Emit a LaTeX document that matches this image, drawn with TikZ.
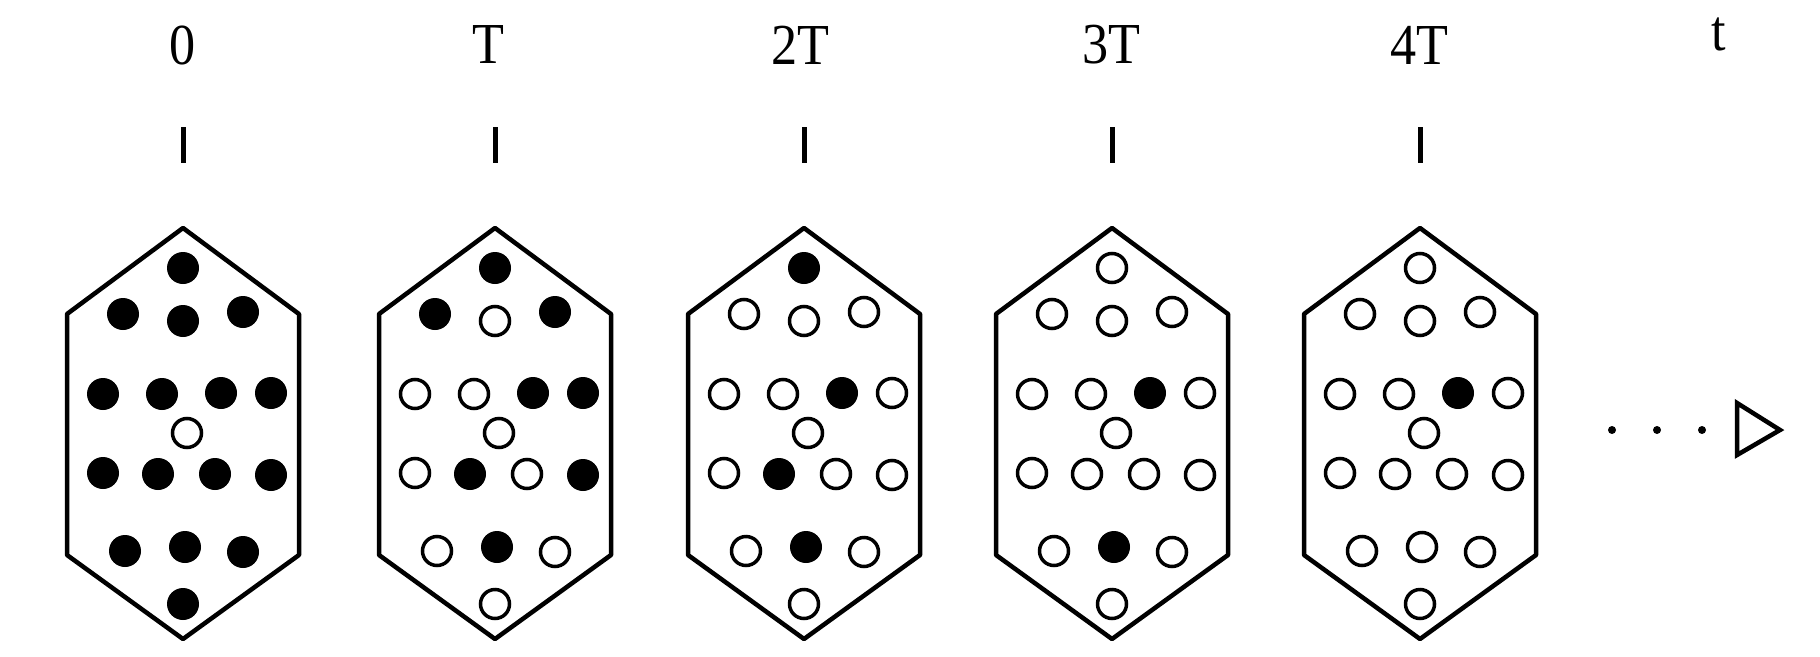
\documentclass[tikz,border=0pt]{standalone}
\usepackage{fontspec}
\setmainfont{Liberation Serif}
\tikzset{
  hexline/.style={line width=4.5pt, line join=round},
  fullc/.style={circle, fill=black, minimum size=32pt, inner sep=0pt, outer sep=0pt},
  openc/.style={circle, draw=black, line width=3.5pt, fill=white, minimum size=29pt, inner sep=0pt},
  lab/.style={font=\fontsize{58}{60}\selectfont, xscale=0.9, inner sep=0pt},
  tickmark/.style={line width=5pt},
  dotmark/.style={circle, fill=black, minimum size=8pt, inner sep=0pt},
  tri/.style={line width=4.5pt, line join=miter},
}
\newcommand\drawhex[5]{%
  \node[lab] (lab#3) at (#5,45) {#2};
  \coordinate (tt#3) at (#1,127);
  \coordinate (tb#3) at (#1,163);
  \draw[tickmark] (tt#3) -- (tb#3);
  \coordinate (hx#3) at (#1,228);
  \draw[hexline] (hx#3) -- ++(116,86) -- ++(0,241) -- ++(-116,84) -- ++(-116,-84) -- ++(0,-241) -- cycle;
  \foreach \dx/\dy [count=\k from 0] in {0/40, -60/86, 0/93, 60/84, -80/166, -21/166, 38/165, 88/165, 4/205, -80/245, -25/246, 32/246, 88/247, -58/323, 2/319, 60/324, 0/376}{
    \pgfmathtruncatemacro\ff{{#4}[\k]}
    \ifnum\ff=1
      \node[fullc] (c#3-\k) at (#1+\dx,228+\dy) {};
    \else
      \node[openc] (c#3-\k) at (#1+\dx,228+\dy) {};
    \fi
  }
}
\begin{document}
\begin{tikzpicture}[x=1pt,y=-1pt]
\useasboundingbox (0,0) rectangle (1820,656);
\fill[white] (0,0) rectangle (1820,656);
\drawhex{183}{0}{a}{1,1,1,1,1,1,1,1,0,1,1,1,1,1,1,1,1}{183}
\drawhex{495}{T}{b}{1,1,0,1,0,0,1,1,0,0,1,0,1,0,1,0,0}{488}
\drawhex{804}{2T}{c}{1,0,0,0,0,0,1,0,0,0,1,0,0,0,1,0,0}{800}
\drawhex{1112}{3T}{d}{0,0,0,0,0,0,1,0,0,0,0,0,0,0,1,0,0}{1111}
\drawhex{1420}{4T}{e}{0,0,0,0,0,0,1,0,0,0,0,0,0,0,0,0,0}{1419}
\node[lab] (labt) at (1719,34) {t};
\node[dotmark] (d1) at (1612,430) {};
\node[dotmark] (d2) at (1657,430) {};
\node[dotmark] (d3) at (1702,430) {};
\coordinate (ta) at (1737,403);
\coordinate (tb) at (1737,455);
\coordinate (tc) at (1780,430);
\draw[tri] (ta) -- (tb) -- (tc) -- cycle;
\end{tikzpicture}
\end{document}
